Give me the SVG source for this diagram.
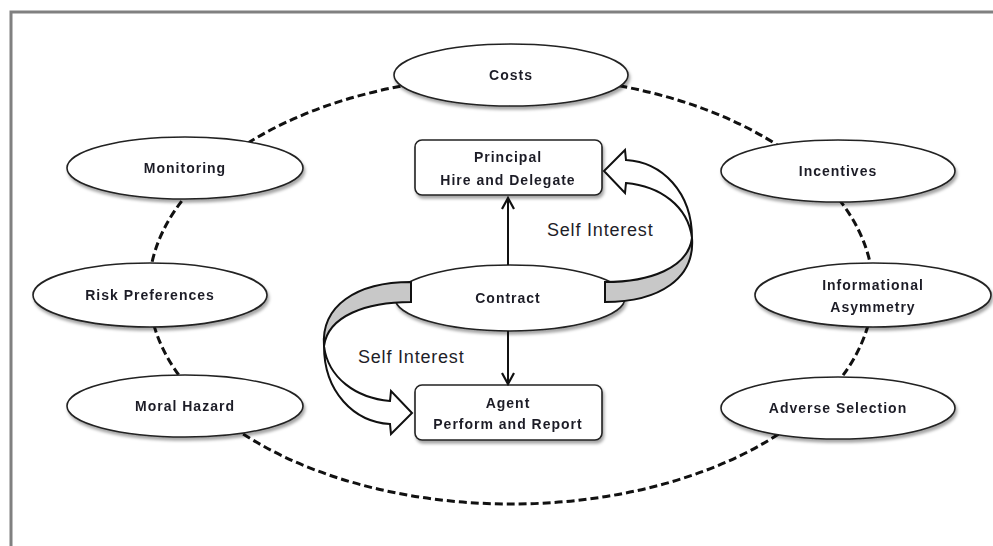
<svg xmlns="http://www.w3.org/2000/svg" width="993" height="546" viewBox="0 0 993 546">
  <defs>
    <filter id="shadow" x="-10%" y="-20%" width="125%" height="150%">
      <feDropShadow dx="1.5" dy="3" stdDeviation="1.8" flood-color="#000" flood-opacity="0.35"/>
    </filter>
    <marker id="vhead" viewBox="0 0 14 14" refX="12" refY="7" markerWidth="14" markerHeight="14" markerUnits="userSpaceOnUse" orient="auto">
      <path d="M1,1 L12,7 L1,13" fill="none" stroke="#111" stroke-width="2.2"/>
    </marker>
    <!-- curved "self interest" arrow, drawn on the right side -->
    <g id="curvedArrow">
      <path d="M605,282 C650,282 688,268 692,238 C695,278 660,302 605,302 Z" fill="#c8c8c8" stroke="#111" stroke-width="2"/>
      <path d="M692,238 C692,192 662,162 626,160 L625,150 L604,171 L625,193 L626,183 C660,186 688,206 692,238 Z" fill="#fff" stroke="#111" stroke-width="2" stroke-linejoin="miter"/>
    </g>
  </defs>
  <style>
    .node { fill: #fff; stroke: #222; stroke-width: 1.6; }
    .lbl { font-family: "Liberation Sans", Arial, sans-serif; font-weight: bold; font-size: 14px; letter-spacing: 1px; fill: #1e1e28; text-anchor: middle; }
    .si { font-family: "Liberation Sans", Arial, sans-serif; font-size: 18px; letter-spacing: 0.8px; fill: #1e1e28; }
    .link { stroke: #111; stroke-width: 2; fill: none; }
  </style>

  <!-- frame -->
  <rect x="11" y="12" width="1000" height="600" fill="#fff" stroke="#808080" stroke-width="3"/>

  <!-- outer dashed ring -->
  <g id="ring">
    <ellipse cx="511" cy="290" rx="362" ry="214" fill="none" stroke="#111" stroke-width="3" stroke-dasharray="8 4"/>
  </g>

  <!-- factor nodes -->
  <g id="costs" filter="url(#shadow)">
    <ellipse class="node" cx="511" cy="75" rx="117" ry="31"/>
    <text class="lbl" x="511" y="80">Costs</text>
  </g>
  <g id="monitoring" filter="url(#shadow)">
    <ellipse class="node" cx="185" cy="168" rx="118" ry="31"/>
    <text class="lbl" x="185" y="173">Monitoring</text>
  </g>
  <g id="risk-preferences" filter="url(#shadow)">
    <ellipse class="node" cx="150" cy="295" rx="117" ry="32"/>
    <text class="lbl" x="150" y="300">Risk Preferences</text>
  </g>
  <g id="moral-hazard" filter="url(#shadow)">
    <ellipse class="node" cx="185" cy="406" rx="118" ry="31"/>
    <text class="lbl" x="185" y="411">Moral Hazard</text>
  </g>
  <g id="incentives" filter="url(#shadow)">
    <ellipse class="node" cx="838" cy="171" rx="117" ry="31"/>
    <text class="lbl" x="838" y="176">Incentives</text>
  </g>
  <g id="informational-asymmetry" filter="url(#shadow)">
    <ellipse class="node" cx="873" cy="295" rx="118" ry="32"/>
    <text class="lbl" x="873" y="290">Informational</text>
    <text class="lbl" x="873" y="312">Asymmetry</text>
  </g>
  <g id="adverse-selection" filter="url(#shadow)">
    <ellipse class="node" cx="838" cy="408" rx="117" ry="31"/>
    <text class="lbl" x="838" y="413">Adverse Selection</text>
  </g>

  <!-- central nodes -->
  <g id="principal" filter="url(#shadow)">
    <rect class="node" x="415" y="140" width="187" height="55" rx="7"/>
    <text class="lbl" x="508" y="162">Principal</text>
    <text class="lbl" x="508" y="185">Hire and Delegate</text>
  </g>
  <g id="contract" filter="url(#shadow)">
    <ellipse class="node" cx="510" cy="298" rx="115" ry="33"/>
    <text class="lbl" x="508" y="303">Contract</text>
  </g>
  <g id="agent" filter="url(#shadow)">
    <rect class="node" x="415" y="385" width="187" height="55" rx="7"/>
    <text class="lbl" x="508" y="408">Agent</text>
    <text class="lbl" x="508" y="429">Perform and Report</text>
  </g>

  <!-- connectors -->
  <g id="connectors">
    <line class="link" x1="508" y1="265" x2="508" y2="198" marker-end="url(#vhead)"/>
    <line class="link" x1="508" y1="331" x2="508" y2="384" marker-end="url(#vhead)"/>
    <use href="#curvedArrow"/>
    <use href="#curvedArrow" transform="rotate(180 508 292)"/>
    <text class="si" x="547" y="236">Self Interest</text>
    <text class="si" x="358" y="363">Self Interest</text>
  </g>
</svg>
